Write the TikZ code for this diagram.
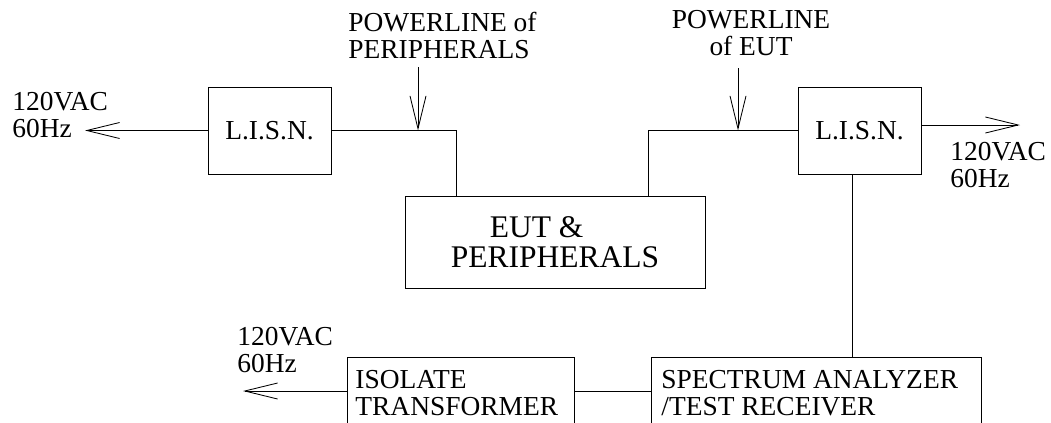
\documentclass[tikz,border=0pt]{standalone}
\usepackage{fontspec}
\setmainfont{Liberation Serif}
\usetikzlibrary{arrows.meta}

\newcommand{\dgmfont}{\fontsize{19.5}{18.8}\selectfont}
\newcommand{\eutfont}{\fontsize{22.4}{21}\selectfont}

\begin{document}
\begin{tikzpicture}[x=0.025cm, y=-0.025cm, line width=0.6pt,
    box/.style={draw, inner sep=0pt, font=\dgmfont},
    txt/.style={anchor=north west, inner sep=0pt, align=left, font=\dgmfont},
    barb/.style={-{Straight Barb[length=0.82cm, width=0.4cm]}}]
          \useasboundingbox (0,0) rectangle (1051,422);

          % LISN boxes and EUT
          \node[box, minimum width=3.075cm, minimum height=2.175cm] (lisnA) at (269.5,130.5) {L.I.S.N.};
          \node[box, minimum width=3.075cm, minimum height=2.175cm] (lisnB) at (859.5,130.5) {L.I.S.N.};
          \node[box, minimum width=7.5cm, minimum height=2.3cm, align=left, font=\eutfont] (eut) at (555,242) {\hspace*{0.975cm}EUT \&\\PERIPHERALS};

          % measuring chain, cut at the lower edge
          \node[box, anchor=north west, minimum width=5.675cm, minimum height=2.825cm] (iso) at (347,357) {};
          \node[box, anchor=north west, minimum width=8.25cm, minimum height=2.825cm] (spec) at (651,357) {};
          \node[txt] (isotxt) at (355,370) {ISOLATE\\TRANSFORMER};
          \node[txt] (spectxt) at (661,370) {SPECTRUM ANALYZER\\/TEST RECEIVER};

          % mains outlets
          \coordinate (acA) at (85,130.5);
          \coordinate (acB) at (1020,125);
          \coordinate (acC) at (243,391);
          \draw[barb] (lisnA.west) -- (acA);
          \draw[barb] (acB -| lisnB.east) -- (acB);
          \draw[barb] (iso.west |- acC) -- (acC);
          \node[txt] (acAtxt) at (12,92) {120VAC\\60Hz};
          \node[txt] (acBtxt) at (950,142) {120VAC\\60Hz};
          \node[txt] (acCtxt) at (237,327) {120VAC\\60Hz};

          % power lines
          \coordinate (jA) at (456,0);
          \coordinate (jB) at (648,0);
          \coordinate (jC) at (852,0);
          \draw (lisnA.east) -| (eut.north -| jA);
          \draw (eut.north -| jB) |- (lisnB.west);
          \draw (lisnB.south -| jC) -- (spec.north -| jC);
          \draw (iso.east |- acC) -- (spec.west |- acC);

          % feed arrows
          \coordinate (feedA) at (418,67);
          \coordinate (feedB) at (738,68);
          \draw[barb] (feedA) -- (feedA |- lisnA.east);
          \draw[barb] (feedB) -- (feedB |- lisnB.west);
          \node[txt] (feedAtxt) at (348,12) {POWERLINE of\\PERIPHERALS};
          \node[txt, anchor=north, align=center] (feedBtxt) at (751,10) {POWERLINE\\of EUT};
        \end{tikzpicture}
\end{document}
